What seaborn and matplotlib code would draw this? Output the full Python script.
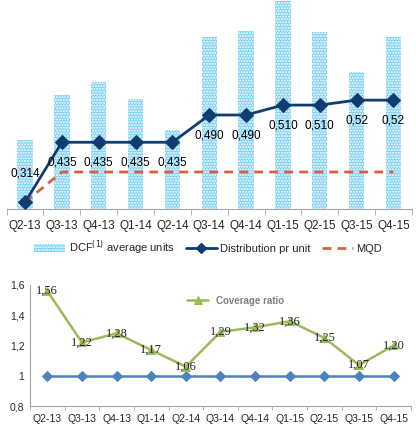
import numpy as np
import pandas as pd
import matplotlib
matplotlib.use("Agg")
import matplotlib.pyplot as plt
from matplotlib.lines import Line2D
from matplotlib.patches import Patch
import seaborn as sns

quarters = ["Q2-13", "Q3-13", "Q4-13", "Q1-14", "Q2-14", "Q3-14",
            "Q4-14", "Q1-15", "Q2-15", "Q3-15", "Q4-15"]
dcf_units = [0.69, 1.14, 1.27, 1.10, 0.79, 1.72, 1.78, 2.08, 1.77, 1.37, 1.72]
distribution = [0.314, 0.435, 0.435, 0.435, 0.435, 0.490, 0.490, 0.510, 0.510, 0.52, 0.52]
dist_labels = ["0,314", "0,435", "0,435", "0,435", "0,435", "0,490", "0,490",
               "0,510", "0,510", "0,52", "0,52"]
mqd = [0.314, 0.375, 0.375, 0.375, 0.375, 0.375, 0.375, 0.375, 0.375, 0.375, 0.375]
coverage = [1.56, 1.22, 1.28, 1.17, 1.06, 1.29, 1.32, 1.36, 1.25, 1.07, 1.20]
baseline = [1] * 11

sns.set_style("white")
plt.rcParams["font.family"] = ["Liberation Sans", "DejaVu Sans"]

df = pd.DataFrame({"quarter": quarters, "dcf": dcf_units, "dist": distribution,
                   "mqd": mqd, "coverage": coverage, "base": baseline})
df["x"] = np.arange(len(df))

fig = plt.figure(figsize=(4.16, 4.34), dpi=100)

# top chart: DCF bars + distribution line
ax1 = fig.add_axes([0.016, 0.518, 0.974, 0.482])
bar_col = "#7fd1f5"
sns.barplot(data=df, x="quarter", y="dcf", color=bar_col, width=0.42, ax=ax1,
            saturation=1)
for p in ax1.patches:
    p.set_hatch("......")
    p.set_edgecolor("white")
    p.set_linewidth(0)
ax1.set_ylim(0, 2.09)
ax1.set_xlim(-0.5, 10.5)
ax1.set_yticks([])
ax1.set_ylabel("")
ax1.set_xlabel("")

ax2 = ax1.twinx()
sns.lineplot(data=df, x="x", y="mqd", color="#d9603b", lw=2, ax=ax2,
             linestyle=(0, (3.2, 2.2)))
sns.lineplot(data=df, x="x", y="dist", color="#0f3d70", lw=2, marker="D",
             markersize=7, markeredgecolor="#0f3d70", ax=ax2)
ax2.set_ylim(0.30, 0.722)
ax2.set_yticks([])
ax2.set_ylabel("")
ax2.set_xlabel("")
ax2.set_xlim(-0.5, 10.5)
for i, (v, t) in enumerate(zip(distribution, dist_labels)):
    dy = 29 if i == 0 else -20
    ax2.annotate(t, (i, v), xytext=(0, dy), textcoords="offset pixels",
                 ha="center", va="center", fontsize=8.5, color="black")

for a in (ax1, ax2):
    for s in ["top", "right", "left"]:
        a.spines[s].set_visible(False)
ax2.spines["bottom"].set_visible(False)
ax1.spines["bottom"].set_color("#a6a6a6")
ax1.set_xticks(range(11), quarters)
ax1.set_xticks(np.arange(-0.5, 11, 1), minor=True)
ax1.tick_params(axis="x", which="major", length=0, labelsize=8.5, pad=8)
ax1.tick_params(axis="x", which="minor", length=4, color="#a6a6a6",
                direction="out", bottom=True)

handles = [Patch(facecolor=bar_col, edgecolor="white", hatch="......", lw=0),
           Line2D([], [], color="#0f3d70", lw=2, marker="D", markersize=5),
           Line2D([], [], color="#d9603b", lw=2, linestyle=(0, (3.2, 2.2)))]
fig.legend(handles, [r"DCF$^{(1)}$ average units", "Distribution pr unit", "MQD"],
           loc="center", bbox_to_anchor=(0.5, 0.429), ncol=3, frameon=False,
           fontsize=8, handlelength=2.8, columnspacing=1.0, handletextpad=0.3)

# bottom chart: coverage ratio
ax3 = fig.add_axes([0.072, 0.0645, 0.916, 0.279])
sns.lineplot(data=df, x="x", y="base", color="#4f81bd", lw=1.8, marker="D",
             markersize=5, markeredgecolor="#4f81bd", ax=ax3)
sns.lineplot(data=df, x="x", y="coverage", color="#9bbb59", lw=1.8, marker="^",
             markersize=6, markeredgecolor="#9bbb59", ax=ax3,
             label="Coverage ratio")
for i, v in enumerate(coverage):
    ax3.text(i, v, f"{v:.2f}".replace(".", ","), ha="center", va="center",
             fontsize=9, family=["Liberation Serif", "DejaVu Serif"])
ax3.set_ylim(0.8, 1.6)
ax3.set_xlim(-0.5, 10.5)
ax3.set_yticks([0.8, 1.0, 1.2, 1.4, 1.6], ["0,8", "1", "1,2", "1,4", "1,6"])
ax3.set_xticks(range(11), quarters)
ax3.set_xticks(np.arange(-0.5, 11, 1), minor=True)
ax3.tick_params(axis="x", which="major", length=0, labelsize=7.5, pad=6)
ax3.tick_params(axis="x", which="minor", length=3, color="#a6a6a6",
                direction="out", bottom=True)
ax3.tick_params(axis="y", length=0, labelsize=7.5, pad=4)
ax3.set_xlabel("")
ax3.set_ylabel("")
for s in ["top", "right"]:
    ax3.spines[s].set_visible(False)
for s in ["left", "bottom"]:
    ax3.spines[s].set_color("#a6a6a6")
leg = ax3.legend(loc="center", bbox_to_anchor=(0.54, 0.87), frameon=False,
                 fontsize=7, handlelength=2.2)
for t in leg.get_texts():
    t.set_color("#7f7f7f")
    t.set_fontweight("bold")

fig.savefig("out.png", dpi=100)
